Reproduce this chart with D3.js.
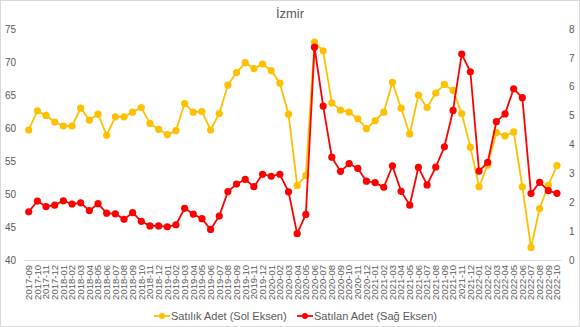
<!DOCTYPE html>
<html>
<head>
<meta charset="utf-8">
<script src="https://cdn.jsdelivr.net/npm/d3@7"></script>
<style>
  html, body { margin: 0; padding: 0; background: #fff; }
  svg { display: block; font-family: "Liberation Sans", Arial, sans-serif; }
</style>
</head>
<body>
<svg id="chart" width="580" height="327"></svg>
<script>
// Months (2017-09 .. 2022-10)
const months = [
  "2017-09","2017-10","2017-11","2017-12",
  "2018-01","2018-02","2018-03","2018-04","2018-05","2018-06","2018-07","2018-08","2018-09","2018-10","2018-11","2018-12",
  "2019-01","2019-02","2019-03","2019-04","2019-05","2019-06","2019-07","2019-08","2019-09","2019-10","2019-11","2019-12",
  "2020-01","2020-02","2020-03","2020-04","2020-05","2020-06","2020-07","2020-08","2020-09","2020-10","2020-11","2020-12",
  "2021-01","2021-02","2021-03","2021-04","2021-05","2021-06","2021-07","2021-08","2021-09","2021-10","2021-11","2021-12",
  "2022-01","2022-02","2022-03","2022-04","2022-05","2022-06","2022-07","2022-08","2022-09","2022-10"
];

// Satılık Adet (left axis)
const forSale = [
  59.7, 62.6, 61.9, 60.9,
  60.3, 60.3, 63.0, 61.2, 62.1, 58.9, 61.7, 61.7, 62.4, 63.1, 60.7, 59.8,
  59.0, 59.6, 63.7, 62.4, 62.5, 59.7, 62.2, 66.5, 68.4, 69.9, 69.0, 69.7,
  68.7, 66.8, 62.1, 51.3, 52.8, 73.0, 71.7, 63.8, 62.7, 62.4, 61.4, 59.9,
  61.1, 62.4, 66.9, 63.0, 59.1, 65.0, 63.1, 65.3, 66.6, 65.7, 62.2, 57.1,
  51.1, 54.4, 59.3, 58.8, 59.4, 51.1, 41.9, 47.8, 51.3, 54.3
];

// Satılan Adet (right axis)
const sold = [
  1.67, 2.04, 1.85, 1.90,
  2.05, 1.94, 1.98, 1.71, 1.95, 1.62, 1.60, 1.41, 1.64, 1.34, 1.18, 1.18,
  1.15, 1.22, 1.79, 1.59, 1.43, 1.06, 1.52, 2.37, 2.63, 2.79, 2.54, 2.97,
  2.90, 2.97, 2.36, 0.91, 1.58, 7.37, 5.33, 3.56, 3.07, 3.34, 3.17, 2.73,
  2.68, 2.52, 3.26, 2.38, 1.90, 3.21, 2.60, 3.22, 3.92, 5.18, 7.13, 6.52,
  3.08, 3.38, 4.79, 5.06, 5.93, 5.62, 2.30, 2.69, 2.40, 2.31
];

const leftTicks = [40, 45, 50, 55, 60, 65, 70, 75];
const rightTicks = [0, 1, 2, 3, 4, 5, 6, 7, 8];

const seriesNames = ["Satılık Adet (Sol Eksen)", "Satılan Adet (Sağ Eksen)"];
const seriesColors = ["#FFC000", "#FF0000"];
const title = "İzmir";

const svg = d3.select("#chart");
const W = 580, H = 327;
const textColor = "#595959";

// frame
svg.append("rect")
  .attr("x", 0.5).attr("y", 0.5)
  .attr("width", W - 1).attr("height", H - 1)
  .attr("fill", "#fff").attr("stroke", "#d9d9d9");

const x = d3.scaleBand().domain(months).range([24.4, 561.3]).padding(0);
const xc = d => x(d) + x.bandwidth() / 2;
const yL = d3.scaleLinear().domain([40, 75]).range([260, 29]);
const yR = d3.scaleLinear().domain([0, 8]).range([260, 29]);

// title
svg.append("text")
  .attr("x", 290).attr("y", 18)
  .attr("text-anchor", "middle")
  .attr("font-size", 13).attr("fill", textColor)
  .text(title);

// baseline
svg.append("line")
  .attr("x1", 24.4).attr("x2", 561.3)
  .attr("y1", yL(40) + 0.5).attr("y2", yL(40) + 0.5)
  .attr("stroke", "#d9d9d9").attr("stroke-width", 1);

// left axis
const leftAxis = d3.axisLeft(yL).tickValues(leftTicks).tickSize(0).tickPadding(0);
const gL = svg.append("g").attr("transform", "translate(16,0)").call(leftAxis);
gL.select(".domain").remove();
gL.selectAll("text").attr("font-size", 10).attr("fill", textColor)
  .attr("font-family", "Liberation Sans, Arial, sans-serif");

// right axis
const rightAxis = d3.axisRight(yR).tickValues(rightTicks).tickSize(0).tickPadding(0);
const gR = svg.append("g").attr("transform", "translate(569,0)").call(rightAxis);
gR.select(".domain").remove();
gR.selectAll("text").attr("font-size", 10).attr("fill", textColor)
  .attr("font-family", "Liberation Sans, Arial, sans-serif");

// bottom axis with rotated month labels
const bottomAxis = d3.axisBottom(x).tickSize(0).tickPadding(0);
const gB = svg.append("g").attr("transform", "translate(0,265)").call(bottomAxis);
gB.select(".domain").remove();
gB.selectAll("text")
  .attr("font-size", 9.5).attr("fill", textColor)
  .attr("font-family", "Liberation Sans, Arial, sans-serif")
  .attr("text-anchor", "end")
  .attr("transform", "rotate(-90)")
  .attr("x", 0).attr("y", 0).attr("dy", "0.35em");

// series
const series = [
  { values: forSale, y: yL, color: seriesColors[0] },
  { values: sold, y: yR, color: seriesColors[1] }
];

series.forEach(s => {
  const data = months.map((m, i) => ({ m, v: s.values[i] }));
  const line = d3.line().x(d => xc(d.m)).y(d => s.y(d.v));
  svg.append("path").datum(data)
    .attr("d", line).attr("fill", "none")
    .attr("stroke", s.color).attr("stroke-width", 1.8)
    .attr("stroke-linejoin", "round");
  svg.append("g").selectAll("circle").data(data).join("circle")
    .attr("cx", d => xc(d.m)).attr("cy", d => s.y(d.v))
    .attr("r", 3.6).attr("fill", s.color);
});

// legend
const legendItems = [
  { x: 154, name: seriesNames[0], color: seriesColors[0] },
  { x: 297, name: seriesNames[1], color: seriesColors[1] }
];
const ly = 316;
legendItems.forEach(it => {
  const g = svg.append("g");
  g.append("line").attr("x1", it.x).attr("x2", it.x + 16)
    .attr("y1", ly).attr("y2", ly)
    .attr("stroke", it.color).attr("stroke-width", 1.8);
  g.append("circle").attr("cx", it.x + 8).attr("cy", ly).attr("r", 3).attr("fill", it.color);
  g.append("text").attr("x", it.x + 17).attr("y", ly).attr("dy", "0.35em")
    .attr("font-size", 11).attr("fill", textColor).text(it.name);
});
</script>
</body>
</html>
